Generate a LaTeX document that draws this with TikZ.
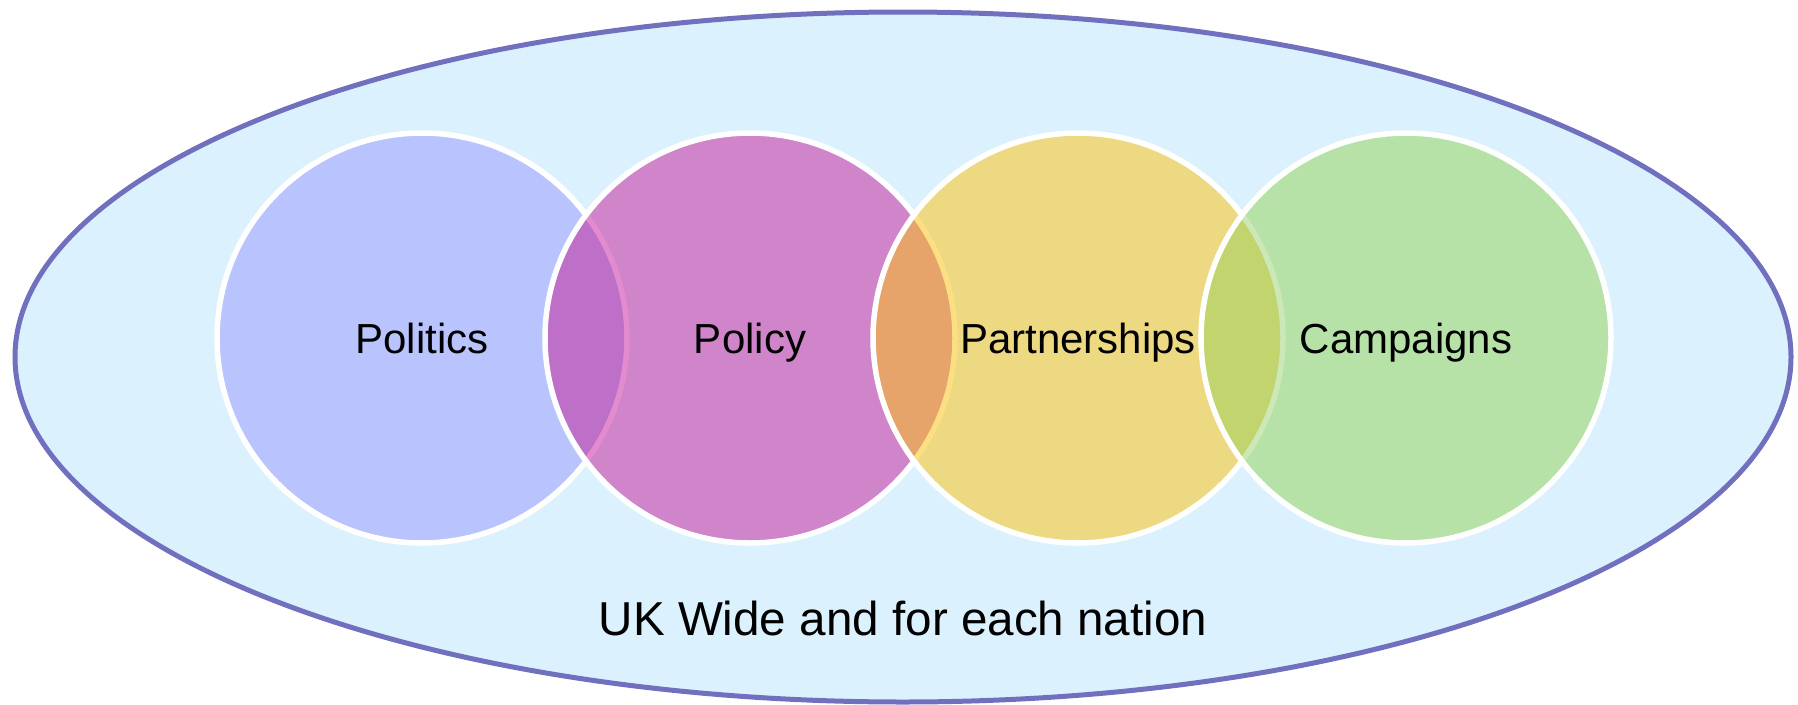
\documentclass[tikz,border=0pt]{standalone}
\usepackage{fontspec}
\setmainfont{Liberation Sans}
\definecolor{ellfill}{HTML}{DCF1FE}
\definecolor{elline}{HTML}{7070BE}
\definecolor{cpol}{HTML}{B9C4FE}
\definecolor{cpoy}{HTML}{D084C9}
\definecolor{cpar}{HTML}{ECD982}
\definecolor{ccam}{HTML}{B6E2A8}
\definecolor{oa}{HTML}{BE70C8}
\definecolor{ob}{HTML}{E6A36A}
\definecolor{oc}{HTML}{C1D46E}
\definecolor{fa}{HTML}{E28CCF}
\definecolor{fb}{HTML}{FCDF82}
\definecolor{fc}{HTML}{CBE8B6}
\begin{document}
\begin{tikzpicture}[x=1pt,y=-1pt,
  wline/.style={draw=white,line width=5.5pt},
  faintline/.style={line width=5.5pt},
  lbl/.style={anchor=base,font=\fontsize{42}{50}\selectfont,inner sep=0pt},
  biglbl/.style={anchor=base,font=\fontsize{47.6}{56}\selectfont,inner sep=0pt}]
\useasboundingbox (0,0) rectangle (1798,704);
\coordinate (e) at (903,357);
\coordinate (c1) at (422,338);
\coordinate (c2) at (750,338);
\coordinate (c3) at (1078,338);
\coordinate (c4) at (1406,338);
% outer ellipse
\fill[ellfill] (e) ellipse [x radius=888, y radius=345];
\draw[elline,line width=5pt] (e) ellipse [x radius=888, y radius=345];
% Politics
\fill[cpol] (c1) circle (205);
\draw[wline] (c1) circle (205);
% Policy
\fill[cpoy] (c2) circle (205);
\begin{scope}\clip (c1) circle (205); \fill[oa] (c2) circle (205);\end{scope}
\begin{scope}\clip (c2) circle (205); \draw[faintline,fa] (c1) circle (205);\end{scope}
\draw[wline] (c2) circle (205);
% Partnerships
\fill[cpar] (c3) circle (205);
\begin{scope}\clip (c2) circle (205); \fill[ob] (c3) circle (205);\end{scope}
\begin{scope}\clip (c3) circle (205); \draw[faintline,fb] (c2) circle (205);\end{scope}
\draw[wline] (c3) circle (205);
% Campaigns
\fill[ccam] (c4) circle (205);
\begin{scope}\clip (c3) circle (205); \fill[oc] (c4) circle (205);\end{scope}
\begin{scope}\clip (c4) circle (205); \draw[faintline,fc] (c3) circle (205);\end{scope}
\draw[wline] (c4) circle (205);
% labels
\node[lbl] (tpol) at (422,353) {Politics};
\node[lbl] (tpoy) at (750,353) {Policy};
\node[lbl] (tpar) at (1078,353) {Partnerships};
\node[lbl] (tcam) at (1406,353) {Campaigns};
\node[biglbl] (tuk) at (903,635) {UK Wide and for each nation};
\end{tikzpicture}
\end{document}
